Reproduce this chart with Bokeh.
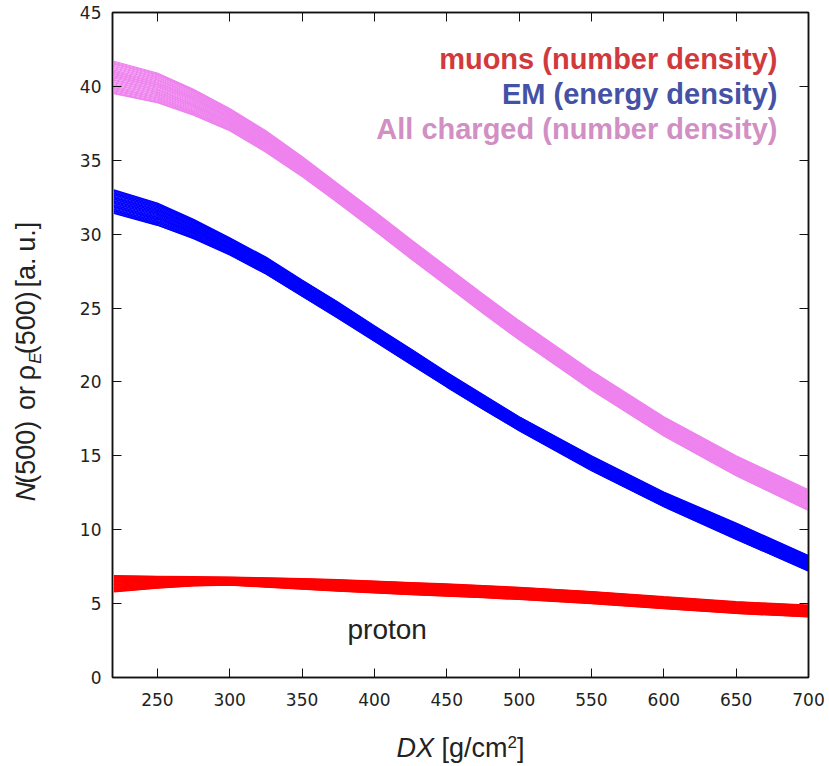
import numpy as np
from bokeh.plotting import figure
from bokeh.layouts import column, row
from bokeh.models import Range1d, LinearAxis, Label, FixedTicker
from bokeh.embed import file_html
from bokeh.resources import INLINE

# Slant depth DX [g/cm^2] at which each band edge is sampled
DX = [220, 250, 275, 300, 325, 350, 375, 400, 425, 450, 475, 500, 550, 600, 650, 700]

# All charged particles, number density at 500 m (lower / upper envelope of the shower set)
CHARGED_LO = [39.5, 38.9, 38.05, 37.0, 35.55, 33.9, 32.1, 30.25, 28.35, 26.5, 24.65, 22.85,
              19.45, 16.35, 13.65, 11.3]
CHARGED_HI = [41.7, 40.9, 39.8, 38.5, 37.0, 35.25, 33.4, 31.55, 29.65, 27.8, 25.95, 24.15,
              20.75, 17.65, 15.0, 12.7]

# Electromagnetic component, energy density at 500 m
EM_LO = [31.4, 30.6, 29.7, 28.6, 27.3, 25.8, 24.3, 22.75, 21.2, 19.65, 18.15, 16.7,
         14.0, 11.55, 9.35, 7.2]
EM_HI = [33.0, 32.1, 31.0, 29.75, 28.45, 26.9, 25.4, 23.8, 22.25, 20.65, 19.15, 17.65,
         15.0, 12.55, 10.45, 8.25]

# Muons, number density at 500 m
MUON_LO = [5.8, 6.05, 6.2, 6.25, 6.12, 5.98, 5.84, 5.72, 5.6, 5.5, 5.4, 5.28,
           5.0, 4.66, 4.33, 4.1]
MUON_HI = [6.9, 6.85, 6.82, 6.8, 6.75, 6.7, 6.62, 6.53, 6.43, 6.33, 6.22, 6.1,
           5.82, 5.47, 5.13, 4.9]

# Position of each simulated shower inside its band (0 = lower edge, 1 = upper edge)
SHOWER_POS = [0.0, 0.02, 0.05, 0.09, 0.12, 0.16, 0.19, 0.23, 0.27, 0.30,
              0.34, 0.37, 0.41, 0.44, 0.48, 0.52, 0.55, 0.59, 0.62, 0.66,
              0.69, 0.73, 0.77, 0.80, 0.84, 0.87, 0.91, 0.94, 0.97, 1.0]

X_TICKS = [250, 300, 350, 400, 450, 500, 550, 600, 650, 700]
Y_TICKS = [0, 5, 10, 15, 20, 25, 30, 35, 40, 45]

LEGEND_TEXT = ["muons (number density)", "EM (energy density)", "All charged (number density)"]
LEGEND_COLOR = ["#d13a3c", "#4452a6", "#d18fc4"]
PRIMARY = "proton"

BAND_COLOR = {"charged": "#ee82ee", "em": "#0000ff", "muon": "#ff0000"}

TEXT_FONT = "Liberation Sans"
TEXT_COLOR = "#222222"
W, H = 829, 766
TITLE_W, TITLE_H = 60, 50          # strips that carry the axis titles
MAIN_W, MAIN_H = W - TITLE_W, H - TITLE_H


def baseline_lift(size):
    # distance between the requested anchor and where the alphabetic baseline lands
    return 0.33 * size


def middle_to_baseline(size):
    # distance from the middle of a text box to its alphabetic baseline
    return 0.35 * size


p = figure(width=MAIN_W, height=MAIN_H, output_backend="svg", toolbar_location=None,
           x_range=Range1d(219, 700), y_range=Range1d(0, 45),
           min_border_left=52, min_border_right=21,
           min_border_top=12, min_border_bottom=39,
           x_axis_location=None, y_axis_location=None)
p.grid.visible = False
p.outline_line_color = "#111111"
p.outline_line_width = 1.5


def make_axis(ticks, labels=True):
    ax = LinearAxis(ticker=FixedTicker(ticks=ticks))
    ax.major_tick_in = 9
    ax.major_tick_out = 0
    ax.minor_tick_line_color = None
    ax.major_tick_line_color = "#111111"
    ax.major_tick_line_width = 1
    ax.axis_line_color = "#111111"
    ax.axis_line_width = 1.5
    ax.major_label_text_font = "DejaVu Sans"
    ax.major_label_text_font_size = "17px"
    ax.major_label_text_color = TEXT_COLOR
    ax.major_label_standoff = 11
    if not labels:
        ax.major_label_overrides = {t: "" for t in ticks}
    return ax


x_axis = make_axis(X_TICKS)
x_axis.major_label_standoff = 15
p.add_layout(x_axis, "below")
p.add_layout(make_axis(Y_TICKS), "left")
p.add_layout(make_axis(X_TICKS, labels=False), "above")
p.add_layout(make_axis(Y_TICKS, labels=False), "right")

x = np.array(DX, dtype=float)


def band(lo, hi, color):
    lo = np.array(lo)
    hi = np.array(hi)
    xs = [x for _ in SHOWER_POS]
    ys = [lo + f * (hi - lo) for f in SHOWER_POS]
    p.multi_line(xs, ys, line_color=color, line_width=1.2)


band(CHARGED_LO, CHARGED_HI, BAND_COLOR["charged"])
band(EM_LO, EM_HI, BAND_COLOR["em"])
band(MUON_LO, MUON_HI, BAND_COLOR["muon"])

# Legend written as coloured text, right-aligned in the upper corner
LEG_SIZE = 29
for i, (txt, col) in enumerate(zip(LEGEND_TEXT, LEGEND_COLOR)):
    p.add_layout(Label(x=665, y=609 - 35 * i + baseline_lift(LEG_SIZE),
                       x_units="screen", y_units="screen",
                       text=txt, text_color=col, text_font=TEXT_FONT,
                       text_font_style="bold", text_font_size=f"{LEG_SIZE}px",
                       text_align="right", text_baseline="alphabetic"))

p.add_layout(Label(x=235, y=39 + baseline_lift(28), x_units="screen", y_units="screen",
                   text=PRIMARY, text_color=TEXT_COLOR, text_font=TEXT_FONT,
                   text_font_size="28px", text_baseline="alphabetic"))


def strip(width, height):
    f = figure(width=width, height=height, output_backend="svg", toolbar_location=None,
               x_range=Range1d(0, width), y_range=Range1d(0, height), min_border=0,
               x_axis_location=None, y_axis_location=None)
    f.grid.visible = False
    f.outline_line_color = None
    return f


# Axis titles assembled word by word (italic symbols, sub/superscripts);
# gaps between words are given explicitly in pixels
ADV = {"N": .722, "(": .333, ")": .333, "0": .556, "5": .556, "o": .556,
       "r": .333, "ρ": .58, "E": .667, "[": .278, "]": .278, "a": .556, ".": .278,
       "u": .556, "D": .722, "X": .667, "g": .556, "/": .278, "c": .5, "m": .833, "2": .556}


def advance(s, size):
    return sum(ADV.get(ch, .556) for ch in s) * size


def title_length(pieces):
    return sum(advance(t, s) + gap for t, s, _, _, gap in pieces)


def title_pieces(fig, pieces, start, base, vertical):
    # every piece is anchored at its own centre, so rotation cannot shift it
    pos = start
    for txt, size, style, shift, gap in pieces:
        half = advance(txt, size) / 2
        off = middle_to_baseline(size)
        if vertical:
            lab = Label(x=base - shift - off, y=pos + half, angle=np.pi / 2)
        else:
            lab = Label(x=pos + half, y=base + shift + off)
        lab.text = txt
        lab.text_font = TEXT_FONT
        lab.text_font_size = f"{size}px"
        lab.text_font_style = style
        lab.text_color = TEXT_COLOR
        lab.text_align = "center"
        lab.text_baseline = "middle"
        fig.add_layout(lab)
        pos += 2 * half + gap


FS = 27
SUB = 17
SP = 0.278 * FS

ylab = strip(TITLE_W, MAIN_H)
y_title = [("N", FS, "italic", 0, 1), ("(500)", FS, "normal", 0, 2 * SP),
           ("or", FS, "normal", 0, SP), ("ρ", FS, "normal", 0, 2),
           ("E", SUB, "italic", -6, 1), ("(500)", FS, "normal", 0, SP),
           ("[a.", FS, "normal", 0, SP + 1), ("u.]", FS, "normal", 0, 0)]
title_pieces(ylab, y_title, (MAIN_H - 376) - title_length(y_title) / 2, 35, vertical=True)

xlab = strip(W, TITLE_H)
x_title = [("DX", FS, "italic", 0, SP), ("[g/cm", FS, "normal", 0, 0),
           ("2", SUB, "normal", 10, 0), ("]", FS, "normal", 0, 0)]
title_pieces(xlab, x_title, 460 - title_length(x_title) / 2, H - 757, vertical=False)

layout = column(row(ylab, p, spacing=0), xlab, spacing=0)
open("out.html", "w").write(file_html(layout, INLINE))
